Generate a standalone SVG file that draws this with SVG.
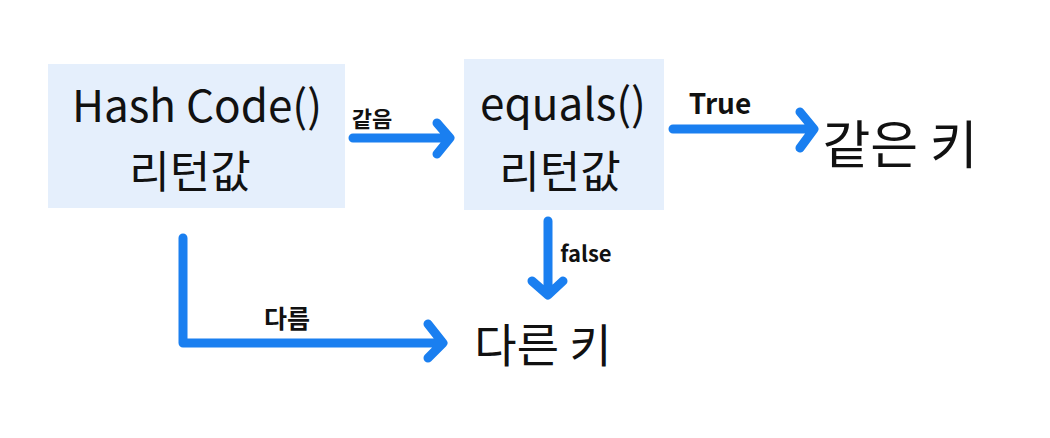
<svg xmlns="http://www.w3.org/2000/svg" width="1050" height="438" viewBox="0 0 1050 438">
<style>
.box{fill:#e5effc;}
.big{font-family:"Noto Sans CJK KR","Noto Sans",sans-serif;font-size:44px;fill:#111;text-anchor:middle;}
.lbl{font-family:"Noto Sans CJK KR","Noto Sans",sans-serif;font-size:22px;font-weight:bold;fill:#111;text-anchor:middle;}
.ar{fill:none;stroke:#1a7ff0;stroke-width:9;stroke-linecap:round;stroke-linejoin:round;}
</style>
<rect width="1050" height="438" fill="#ffffff"/>
<g id="node-hashcode">
<rect class="box" x="48" y="64" width="297" height="144"/>
<text class="big" x="197" y="122">Hash Code()</text>
<text class="big" x="190" y="188">리턴값</text>
</g>
<g id="node-equals">
<rect class="box" x="464" y="59" width="200" height="151"/>
<text class="big" x="563" y="120">equals()</text>
<text class="big" x="560" y="188">리턴값</text>
</g>
<g id="node-same">
<text class="big" x="900" y="164" style="font-size:52px">같은 키</text>
</g>
<g id="node-diff">
<text class="big" x="543" y="362" style="font-size:46px">다른 키</text>
</g>
<g id="connectors">
<path class="ar" d="M353 138 H449 M437 123 L450 138 L437 154"/>
<text class="lbl" x="372" y="127">같음</text>
<path class="ar" d="M673 129 H812 M800 112 L814 129 L800 148"/>
<text class="lbl" x="720" y="114" style="font-size:28px">True</text>
<path class="ar" d="M548 221 V294 M532 281 L548 295 L563 281"/>
<text class="lbl" x="586" y="262">false</text>
<path class="ar" d="M183 238 V343 H441 M428 324 L443 343 L428 358"/>
<text class="lbl" x="287" y="328" style="font-size:25px">다름</text>
</g>
</svg>
